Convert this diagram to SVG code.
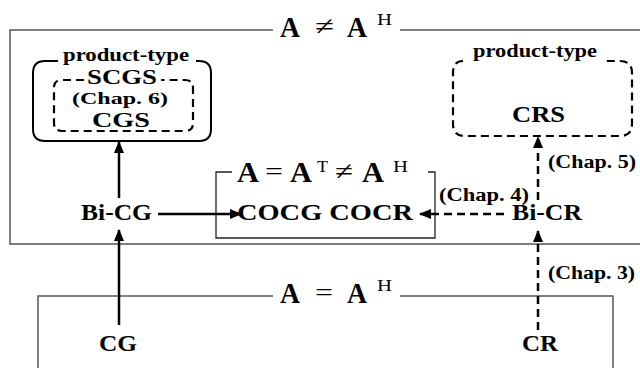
<svg xmlns="http://www.w3.org/2000/svg" width="640" height="368" viewBox="0 0 640 368">
<style>
.lbl{font-family:"Liberation Serif","Times New Roman",serif;font-weight:bold;fill:#000;}
.mA{font-family:"Liberation Serif","Times New Roman",serif;font-weight:bold;font-size:29px;fill:#000;}
.mOp{font-family:"Liberation Serif","Times New Roman",serif;font-size:26px;fill:#000;}
.mSup{font-family:"Liberation Serif","Times New Roman",serif;font-size:16px;fill:#000;}
.frame{fill:none;stroke:#555;stroke-width:1.5;}
.mid{fill:none;stroke:#222;stroke-width:1.3;}
.solid{fill:none;stroke:#000;stroke-width:2.5;}
.dash{fill:none;stroke:#000;stroke-width:2.5;stroke-dasharray:8 5;}
.box{fill:none;stroke:#000;stroke-width:2;}
.dbox{fill:none;stroke:#000;stroke-width:2.2;stroke-dasharray:8 5;}
</style>
<defs>
<marker id="ah" markerUnits="userSpaceOnUse" markerWidth="12" markerHeight="10" refX="11" refY="5" orient="auto">
<path d="M0,0 L12,5 L0,10 z" fill="#000"/>
</marker>
</defs>
<rect width="640" height="368" fill="#fff"/>

<g id="region-noneq">
<path class="frame" d="M642,30 H400 M273,30 H10 V244 H642"/>
<text class="mA" x="280" y="37" textLength="20" lengthAdjust="spacingAndGlyphs">A</text>
<text class="mOp" x="315" y="35" textLength="19" lengthAdjust="spacingAndGlyphs">≠</text>
<text class="mA" x="347" y="37" textLength="20" lengthAdjust="spacingAndGlyphs">A</text>
<text class="mSup" x="377" y="25" textLength="15" lengthAdjust="spacingAndGlyphs">H</text>
</g>

<g id="region-herm">
<path class="frame" d="M273,296 H38 V370 M400,296 H613 V370"/>
<text class="mA" x="280" y="303" textLength="20" lengthAdjust="spacingAndGlyphs">A</text>
<text class="mOp" x="315" y="301" textLength="18" lengthAdjust="spacingAndGlyphs">=</text>
<text class="mA" x="347" y="303" textLength="20" lengthAdjust="spacingAndGlyphs">A</text>
<text class="mSup" x="377" y="291" textLength="15" lengthAdjust="spacingAndGlyphs">H</text>
</g>

<g id="region-sym">
<path class="mid" d="M232,172 H216 V238 H435 V172 H428"/>
<text class="mA" x="237" y="182" textLength="22" lengthAdjust="spacingAndGlyphs">A</text>
<text class="mOp" x="265" y="180" textLength="18" lengthAdjust="spacingAndGlyphs">=</text>
<text class="mA" x="290" y="182" textLength="22" lengthAdjust="spacingAndGlyphs">A</text>
<text class="mSup" x="317" y="172" textLength="11" lengthAdjust="spacingAndGlyphs">T</text>
<text class="mOp" x="335" y="180" textLength="18" lengthAdjust="spacingAndGlyphs">≠</text>
<text class="mA" x="362" y="182" textLength="22" lengthAdjust="spacingAndGlyphs">A</text>
<text class="mSup" x="393" y="172" textLength="15" lengthAdjust="spacingAndGlyphs">H</text>
<text class="lbl" x="237" y="220" font-size="23" textLength="176" lengthAdjust="spacingAndGlyphs">COCG  COCR</text>
</g>

<g id="node-scgs">
<path class="box" d="M58,61 H45 Q33,61 33,73 V129 Q33,141 45,141 H199 Q211,141 211,129 V73 Q211,61 199,61 H196"/>
<text class="lbl" x="63" y="61" font-size="19" textLength="126" lengthAdjust="spacingAndGlyphs">product-type</text>
<path class="dbox" d="M84,80 H62 Q54,80 54,88 V123 Q54,131 62,131 H185 Q193,131 193,123 V88 Q193,80 185,80 H161"/>
<text class="lbl" x="87" y="84" font-size="22" textLength="70" lengthAdjust="spacingAndGlyphs">SCGS</text>
<text class="lbl" x="72" y="104" font-size="17" textLength="96" lengthAdjust="spacingAndGlyphs">(Chap. 6)</text>
<text class="lbl" x="92" y="127" font-size="21" textLength="58" lengthAdjust="spacingAndGlyphs">CGS</text>
</g>

<g id="node-crs">
<path class="dbox" d="M463,61 Q453,61 453,73 V124 Q453,136 465,136 H620 Q632,136 632,124 V73 Q632,61 620,61 H604"/>
<text class="lbl" x="473" y="57" font-size="19" textLength="124" lengthAdjust="spacingAndGlyphs">product-type</text>
<text class="lbl" x="512" y="122" font-size="23" textLength="53" lengthAdjust="spacingAndGlyphs">CRS</text>
</g>

<g id="node-bicg"><text class="lbl" x="81" y="220" font-size="23" textLength="71" lengthAdjust="spacingAndGlyphs">Bi-CG</text></g>
<g id="node-bicr"><text class="lbl" x="512" y="220" font-size="23" textLength="70" lengthAdjust="spacingAndGlyphs">Bi-CR</text></g>
<g id="node-cg"><text class="lbl" x="99" y="351" font-size="23" textLength="38" lengthAdjust="spacingAndGlyphs">CG</text></g>
<g id="node-cr"><text class="lbl" x="522" y="351" font-size="23" textLength="36" lengthAdjust="spacingAndGlyphs">CR</text></g>

<g id="connectors">
<line class="solid" x1="119" y1="198" x2="119" y2="142" marker-end="url(#ah)"/>
<line class="solid" x1="158" y1="214" x2="241" y2="214" marker-end="url(#ah)"/>
<line class="solid" x1="119" y1="325" x2="119" y2="230" marker-end="url(#ah)"/>
<line class="dash" x1="504" y1="214" x2="420" y2="214" marker-end="url(#ah)"/>
<line class="dash" x1="538" y1="200" x2="538" y2="137" marker-end="url(#ah)"/>
<line class="dash" x1="538" y1="330" x2="538" y2="231" marker-end="url(#ah)"/>
<text class="lbl" x="439" y="201" font-size="18" textLength="90" lengthAdjust="spacingAndGlyphs">(Chap. 4)</text>
<text class="lbl" x="548" y="168" font-size="18" textLength="88" lengthAdjust="spacingAndGlyphs">(Chap. 5)</text>
<text class="lbl" x="548" y="279" font-size="18" textLength="87" lengthAdjust="spacingAndGlyphs">(Chap. 3)</text>
</g>
</svg>
